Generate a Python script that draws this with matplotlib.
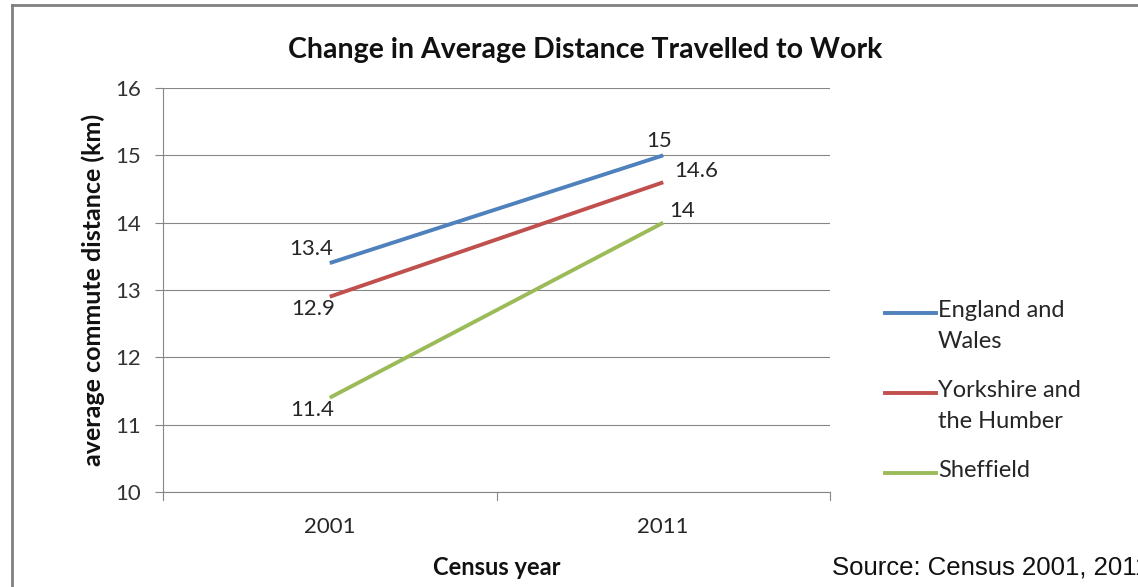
import matplotlib
matplotlib.use("Agg")
import matplotlib.pyplot as plt
from matplotlib.lines import Line2D

years = ["2001", "2011"]
series_names = ["England and\nWales", "Yorkshire and\nthe Humber", "Sheffield"]
england_wales = [13.4, 15.0]
yorkshire = [12.9, 14.6]
sheffield = [11.4, 14.0]
label_texts = [["13.4", "15"], ["12.9", "14.6"], ["11.4", "14"]]
colors = ["#4F81BD", "#C0504D", "#9BBB59"]
yticks = [10, 11, 12, 13, 14, 15, 16]

plt.rcParams['font.family'] = ['Lato', 'DejaVu Sans']

W, H = 1138, 587
fig = plt.figure(figsize=(W / 100, H / 100), dpi=100)
ax = fig.add_axes([163 / W, 1 - 492 / H, (830 - 163) / W, (492 - 88) / H])

xs = list(range(len(years)))
data = [england_wales, yorkshire, sheffield]
for vals, c in zip(data, colors):
    ax.plot(xs, vals, color=c, lw=2.8, solid_capstyle='butt')

# data labels (offsets in points, baseline anchored)
offsets = [[(-13.7, 5.8), (-2.9, 5.8)],
           [(-12.2, -13.0), (23.8, 3.6)],
           [(-13.0, -13.0), (13.7, 4.3)]]
for vals, labs, offs in zip(data, label_texts, offsets):
    for x, v, lab, off in zip(xs, vals, labs, offs):
        ax.annotate(lab, (x, v), xytext=off, textcoords='offset points',
                    ha='center', va='baseline', fontsize=16, color='#262626')

ax.set_xlim(-0.5, 1.5)
ax.set_ylim(10, 16)
ax.set_yticks(yticks)
ax.set_yticklabels([str(t) for t in yticks], fontsize=16, color='#333333')
ax.set_xticks(xs)
ax.set_xticklabels(years, fontsize=16, color='#262626')
ax.tick_params(axis='x', length=0, pad=18)
ax.tick_params(axis='y', length=6, color='#868686', width=0.8, pad=10)
for x in [-0.5, 0.5, 1.5]:
    ax.plot([x, x], [0, -0.02], transform=ax.get_xaxis_transform(),
            color='#868686', lw=0.8, clip_on=False)
ax.grid(axis='y', color='#868686', lw=0.8)
ax.set_axisbelow(True)
for s in ['top', 'right']:
    ax.spines[s].set_visible(False)
for s in ['left', 'bottom']:
    ax.spines[s].set_color('#868686')
    ax.spines[s].set_linewidth(0.8)

ax.set_ylabel("average commute distance (km)", fontsize=18, fontweight='bold',
              color='#111111')
ax.yaxis.set_label_coords(-0.087, 0.5)

fig.text(585 / W, 1 - 58 / H, "Change in Average Distance Travelled to Work",
         fontsize=20.5, fontweight='bold', color='#111111', ha='center', va='baseline')
fig.text(497 / W, 1 - 575 / H, "Census year", fontsize=17, fontweight='bold',
         ha='center', va='baseline', color='#111111')
fig.text(832 / W, 1 - 575 / H, "Source: Census 2001, 2011", fontsize=18.5,
         family='Liberation Sans', ha='left', va='baseline', color='#111111')

# legend
leg_y = [313, 393, 473]
for name, c, yy in zip(series_names, colors, leg_y):
    fig.add_artist(Line2D([885 / W, 936 / W], [1 - yy / H, 1 - yy / H],
                          transform=fig.transFigure, color=c, lw=2.8))
    fig.text(938 / W, 1 - (yy - 13) / H, name, fontsize=17, color='#262626',
             ha='left', va='top', linespacing=1.6)

# outer frame of the clipped figure
fig.add_artist(Line2D([12 / W, 1], [1 - 5 / H, 1 - 5 / H], transform=fig.transFigure,
                      color='#808080', lw=2))
fig.add_artist(Line2D([12 / W, 12 / W], [0, 1 - 5 / H], transform=fig.transFigure,
                      color='#808080', lw=2))

fig.savefig("out.png", dpi=100)
